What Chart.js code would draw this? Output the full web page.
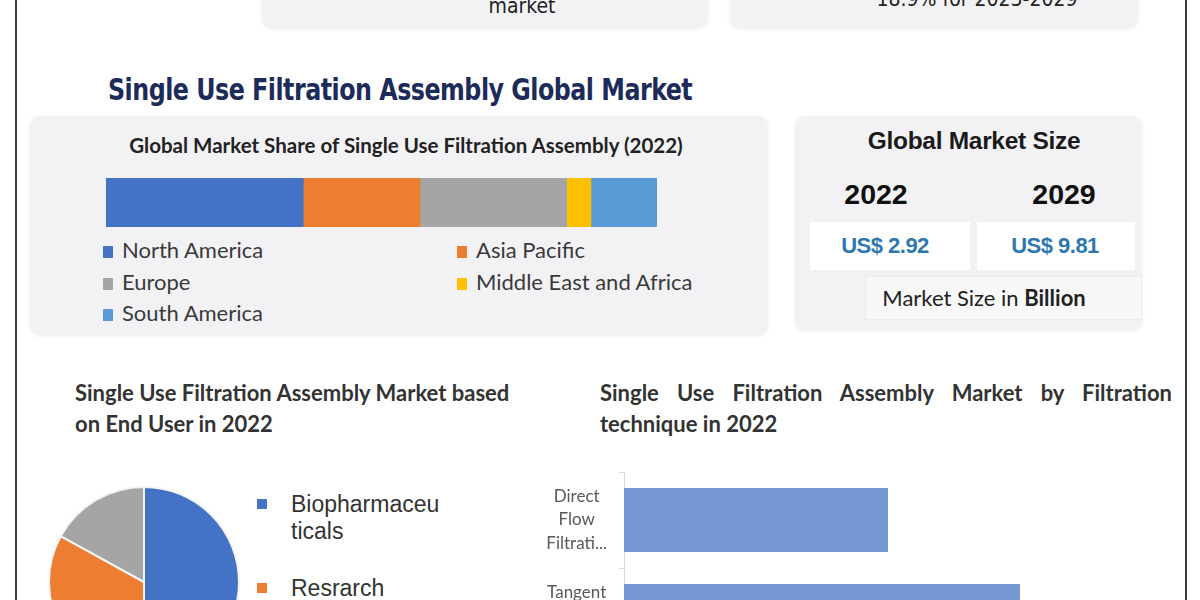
<!DOCTYPE html>
<html><head><meta charset="utf-8">
<script src="https://cdn.jsdelivr.net/npm/chart.js@4"></script>
<style>
html,body{margin:0;padding:0;width:1200px;height:600px;overflow:hidden;background:#fff;}
body{position:relative;font-family:Lato,"Open Sans",sans-serif;color:#333;}
.abs{position:absolute;}
.vline{position:absolute;top:0;width:2px;height:600px;background:#3a3a3a;}
.box{position:absolute;background:#f2f2f5;border-radius:10px;box-shadow:0 1px 4px rgba(0,0,0,0.07);}
.narrow{font-family:"Liberation Sans Narrow","DejaVu Sans Condensed",sans-serif;}
.leg{position:absolute;font-family:Lato,sans-serif;font-size:22px;color:#3a3a3a;white-space:nowrap;line-height:24px;}
.leg i{display:inline-block;width:10px;height:12px;margin-right:9px;vertical-align:0px;}
.pleg{position:absolute;font-family:"Liberation Sans",Arial,sans-serif;font-size:23px;color:#333;line-height:27px;}
.pleg i{position:absolute;left:-34px;top:8px;width:10px;height:10px;}
.ptitle{position:absolute;font-weight:bold;font-size:22px;line-height:31px;color:#333;white-space:nowrap;}
</style></head>
<body>
<script>
// ---- data ----
const regionLabels = ["North America","Asia Pacific","Europe","Middle East and Africa","South America"];
const regionShare = [35.8, 21.2, 26.6, 4.4, 12.0];
const regionColors = ["#4472c4","#ed7d31","#a5a5a5","#ffc000","#5b9bd5"];
const endUserLabels = ["Biopharmaceuticals","Resrarch","Others"];
const endUserShare = [50, 33, 17];
const endUserColors = ["#4472c4","#ed7d31","#a5a5a5"];
const techLabels = [["Direct","Flow","Filtrati..."],["Tangent","ial Flow","Filtrati..."]];
const techValues = [40, 60];
const sizeYears = ["2022","2029"];
const sizeValues = ["US$ 2.92","US$ 9.81"];
</script>

<div class="vline" style="left:15px"></div>
<div class="vline" style="left:1185px"></div>

<!-- top partial boxes -->
<div class="box" style="left:262px;top:-60px;width:446px;height:88px;"></div>
<div class="box" style="left:730px;top:-60px;width:408px;height:88px;"></div>
<div class="abs narrow" style="left:422px;width:200px;top:-6px;font-size:21px;text-align:center;color:#222;">market</div>
<div class="abs narrow" style="left:827px;width:300px;top:-13px;font-size:21px;text-align:center;color:#222;">18.9% for 2023-2029</div>

<!-- main title -->
<div class="abs narrow" id="mt" style="left:108px;top:71px;font-size:31px;font-weight:bold;color:#1d2b5a;letter-spacing:-0.6px;white-space:nowrap;transform:scaleX(0.853);transform-origin:0 0;">Single Use Filtration Assembly Global Market</div>

<!-- panel 1 -->
<div class="box" style="left:30px;top:116px;width:738px;height:219px;"></div>
<div class="abs" style="left:106px;width:600px;top:133px;text-align:center;font-weight:bold;font-size:20.5px;color:#222;white-space:nowrap;">Global Market Share of Single Use Filtration Assembly (2022)</div>
<div class="abs" style="left:106px;top:178px;width:551px;height:49px;"><canvas id="stack"></canvas></div>
<div id="regLeg"></div>

<!-- panel 2 -->
<div class="box" style="left:795px;top:116px;width:347px;height:214px;"></div>
<div class="abs" style="left:824px;width:300px;top:127px;text-align:center;font-family:'Liberation Sans',Arial,sans-serif;font-weight:bold;font-size:24.5px;color:#1a1a1a;letter-spacing:-0.3px;">Global Market Size</div>
<div id="sizeBlock"></div>
<div class="abs" style="left:865px;top:276px;width:275px;height:42px;background:#f8f8f9;border:1px solid #ececef;"></div>
<div class="abs" style="left:834px;top:284px;width:300px;text-align:center;font-size:22px;color:#222;">Market Size in <b>Billion</b></div>

<!-- panel 3 title -->
<div class="ptitle" style="left:75px;top:377px;">Single Use Filtration Assembly Market based</div>
<div class="ptitle" style="left:75px;top:408px;">on End User in 2022</div>
<div class="abs" style="left:48px;top:486px;width:192px;height:192px;"><canvas id="pie"></canvas></div>
<div id="pieLeg"></div>

<!-- panel 4 -->
<div class="ptitle" style="left:600px;top:377px;width:572px;text-align:justify;text-align-last:justify;white-space:normal;">Single Use Filtration Assembly Market by Filtration</div>
<div class="ptitle" style="left:600px;top:408px;">technique in 2022</div>
<div class="abs" style="left:520px;top:460px;width:566px;height:204px;"><canvas id="bar"></canvas></div>

<script>
(function(){
  const pos = [[103,238],[457,238],[103,270],[457,270],[103,301]];
  let h='';
  regionLabels.forEach((l,i)=>{h+=`<div class="leg" style="left:${pos[i][0]}px;top:${pos[i][1]}px"><i style="background:${regionColors[i]}"></i>${l}</div>`;});
  document.getElementById('regLeg').innerHTML=h;
  const yx=[876,1064], vx=[885,1055], bx=[810,977], bw=[160,158];
  let s='';
  sizeYears.forEach((y,i)=>{
    s+=`<div class="abs" style="left:${yx[i]-80}px;width:160px;top:178px;text-align:center;font-family:'Liberation Sans',Arial,sans-serif;font-weight:bold;font-size:28.5px;color:#111;">${y}</div>`;
    s+=`<div class="abs" style="left:${bx[i]}px;top:222px;width:${bw[i]}px;height:48px;background:#fff;"></div>`;
    s+=`<div class="abs" style="left:${vx[i]-80}px;width:160px;top:233px;text-align:center;font-family:'Liberation Sans',Arial,sans-serif;font-weight:bold;font-size:22px;color:#2e78b0;letter-spacing:-0.5px;">${sizeValues[i]}</div>`;
  });
  document.getElementById('sizeBlock').innerHTML=s;
  const ptop=[491,575,659];
  const ptxt=[endUserLabels[0].slice(0,12)+'<br>'+endUserLabels[0].slice(12), endUserLabels[1], endUserLabels[2]];
  let p='';
  endUserLabels.forEach((l,i)=>{p+=`<div class="pleg" style="left:291px;top:${ptop[i]}px"><i style="background:${endUserColors[i]}"></i>${ptxt[i]}</div>`;});
  document.getElementById('pieLeg').innerHTML=p;
})();

Chart.defaults.font.family = "Lato, 'Open Sans', sans-serif";
Chart.defaults.animation = false;

new Chart(document.getElementById('stack'), {
  type:'bar',
  data:{labels:['2022'], datasets: regionLabels.map((l,i)=>({label:l,data:[regionShare[i]],backgroundColor:regionColors[i],borderWidth:0,barPercentage:1,categoryPercentage:1}))},
  options:{indexAxis:'y',responsive:true,maintainAspectRatio:false,
    plugins:{legend:{display:false},tooltip:{enabled:false}},
    scales:{x:{stacked:true,display:false,min:0,max:100},y:{stacked:true,display:false}},
    layout:{padding:0}}
});

new Chart(document.getElementById('pie'), {
  type:'pie',
  data:{labels:endUserLabels,datasets:[{data:endUserShare,backgroundColor:endUserColors,borderColor:'#f4f4f4',borderWidth:2}]},
  options:{responsive:true,maintainAspectRatio:false,plugins:{legend:{display:false},tooltip:{enabled:false}},layout:{padding:0}}
});

new Chart(document.getElementById('bar'), {
  type:'bar',
  data:{labels:techLabels,datasets:[{data:techValues,backgroundColor:'#7698d2',borderWidth:0,barPercentage:0.667,categoryPercentage:1}]},
  options:{indexAxis:'y',responsive:true,maintainAspectRatio:false,
    plugins:{legend:{display:false},tooltip:{enabled:false}},
    layout:{padding:{top:12,right:0,bottom:0,left:0}},
    scales:{
      x:{display:false,min:0,max:70},
      y:{afterFit:(s)=>{s.width=104;s.paddingTop=0;s.paddingBottom=0;},
         grid:{drawOnChartArea:false,drawTicks:true,tickLength:5,color:'#d9d9d9'},
         border:{display:true,color:'#d9d9d9'},
         ticks:{crossAlign:'center',padding:12,color:'#595959',font:{size:17,lineHeight:1.38}}}
    }}
});
</script>
</body></html>
